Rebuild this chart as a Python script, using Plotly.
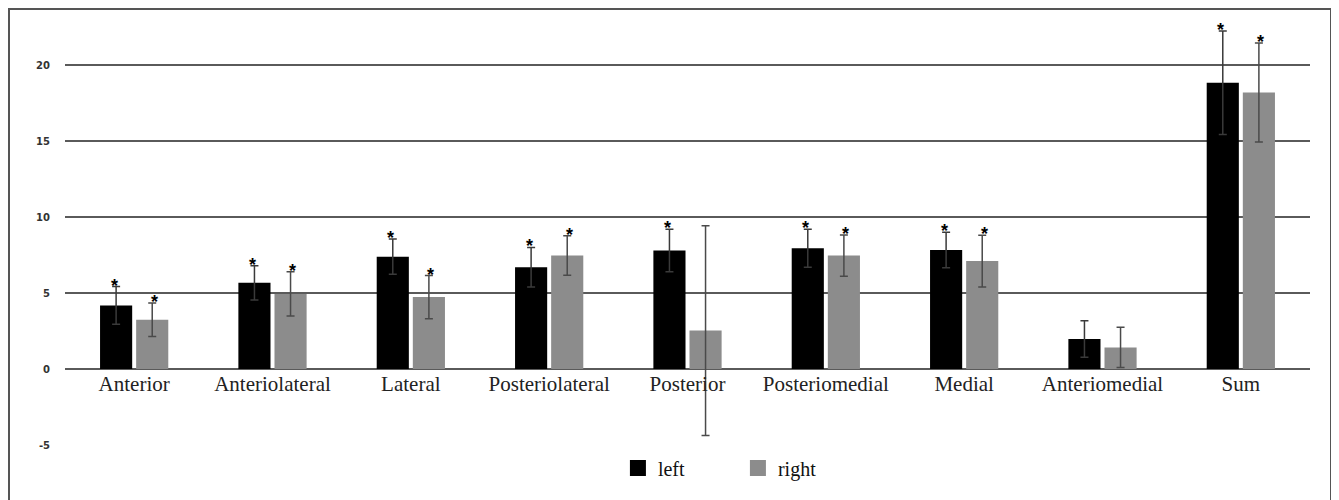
import plotly.graph_objects as go

categories = ["Anterior", "Anteriolateral", "Lateral", "Posteriolateral", "Posterior",
              "Posteriomedial", "Medial", "Anteriomedial", "Sum"]
left_vals = [4.18, 5.67, 7.39, 6.70, 7.79, 7.95, 7.83, 1.97, 18.83]
left_err = [1.24, 1.13, 1.16, 1.30, 1.40, 1.25, 1.17, 1.20, 3.40]
right_vals = [3.24, 4.94, 4.73, 7.46, 2.53, 7.46, 7.10, 1.42, 18.19]
right_err = [1.10, 1.45, 1.42, 1.30, 6.90, 1.36, 1.70, 1.32, 3.25]
left_star = [True, True, True, True, True, True, True, False, True]
right_star = [True, True, True, True, False, True, True, False, True]
y_ticks = [-5, 0, 5, 10, 15, 20]
y_ticktext = ["-5", "0", "5", "10", "15", "20"]

LEFT_COLOR = "#000000"
RIGHT_COLOR = "#8c8c8c"
Y_MIN, Y_MAX = -5, 22.5

fig = go.Figure()
fig.add_trace(go.Bar(
    x=categories, y=left_vals, name="left", marker=dict(color=LEFT_COLOR, line=dict(width=0)),
    error_y=dict(type="data", array=left_err, color="#3a3a3a", thickness=1.5, width=4),
    showlegend=False))
fig.add_trace(go.Bar(
    x=categories, y=right_vals, name="right", marker=dict(color=RIGHT_COLOR, line=dict(width=0)),
    error_y=dict(type="data", array=right_err, color="#4a4a4a", thickness=1.5, width=4),
    showlegend=False))
# legend entries
fig.add_trace(go.Scatter(x=[None], y=[None], mode="markers", name="left",
                         marker=dict(symbol="square", size=16, color=LEFT_COLOR)))
fig.add_trace(go.Scatter(x=[None], y=[None], mode="markers", name="right",
                         marker=dict(symbol="square", size=16, color=RIGHT_COLOR)))

annotations = []
for cat, v, e, s in zip(categories, left_vals, left_err, left_star):
    if s:
        annotations.append(dict(x=cat, y=v + e, text="<b>*</b>", showarrow=False, xshift=-20, yshift=1,
                                font=dict(family="Liberation Sans", size=18, color="#000"),
                                xref="x", yref="y"))
for cat, v, e, s in zip(categories, right_vals, right_err, right_star):
    if s:
        annotations.append(dict(x=cat, y=v + e, text="<b>*</b>", showarrow=False, xshift=20, yshift=1,
                                font=dict(family="Liberation Sans", size=18, color="#000"),
                                xref="x", yref="y"))

fig.update_layout(
    width=1331, height=492,
    paper_bgcolor="white", plot_bgcolor="white",
    margin=dict(l=57, r=29, t=19, b=53),
    barmode="group", bargap=0.478, bargroupgap=0.11,
    annotations=annotations,
    legend=dict(orientation="h", x=0.5405, xanchor="center", y=-0.055, yanchor="middle",
                font=dict(family="Liberation Serif", size=20, color="#111"),
                entrywidth=75, entrywidthmode="pixels", itemsizing="trace"),
    shapes=[dict(type="rect", xref="paper", yref="paper",
                 x0=-56 / 1245, x1=1 + 21 / 1245, y0=-0.2, y1=1 + 18 / 420,
                 line=dict(color="#555", width=2), fillcolor="rgba(0,0,0,0)", layer="below")],
    xaxis=dict(type="category", anchor="free", position=(0 - Y_MIN) / (Y_MAX - Y_MIN),
               showgrid=False, showline=False, ticks="", zeroline=False,
               tickfont=dict(family="Liberation Serif", size=21, color="#222")),
    yaxis=dict(range=[Y_MIN, Y_MAX], tickvals=y_ticks, ticktext=y_ticktext,
               showgrid=True, gridcolor="#5a5a5a", gridwidth=1.5, zeroline=False,
               showline=False, ticks="", ticklabelstandoff=14,
               tickfont=dict(family="DejaVu Sans", size=10, color="#333", weight="bold")),
)

fig.write_html("out.html")
